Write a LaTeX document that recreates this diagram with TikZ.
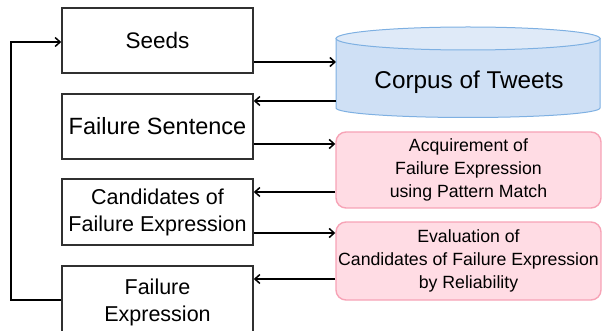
\documentclass[tikz,border=0pt]{standalone}
\usepackage{fontspec}
\setmainfont{Liberation Sans}
\usetikzlibrary{arrows.meta,calc}
\definecolor{boxline}{HTML}{303030}
\definecolor{cylbody}{HTML}{CFE0F5}
\definecolor{cyltop}{HTML}{DFEAF8}
\definecolor{cylline}{HTML}{7EB0E2}
\definecolor{pinkfill}{HTML}{FFDCE4}
\definecolor{pinkline}{HTML}{F7A3B6}
\tikzset{
  leftbox/.style={draw=boxline, line width=1.6pt, fill=white, minimum width=191pt, align=center, inner sep=0pt,
     font=\fontsize{21.5}{27}\selectfont},
  pinkbox/.style={draw=pinkline, fill=pinkfill, line width=1.4pt, rounded corners=10pt, minimum width=265pt,
     align=center, inner sep=0pt, font=\fontsize{17.7}{23}\selectfont},
  arr/.style={line width=1.7pt, -{Straight Barb[length=5pt,width=9pt,line width=1.5pt]}},
}
\begin{document}
\begin{tikzpicture}[x=1pt,y=-1pt]
\useasboundingbox (0,0) rectangle (602,331);
% cylinder
\path[fill=cylbody, draw=cylline, line width=1pt]
  (336,38.5) -- (336,108) arc[start angle=180, end angle=360, x radius=132pt, y radius=9.5pt] -- (600,38.5) -- cycle;
\draw[fill=cyltop, draw=cylline, line width=1pt] (468,38.5) ellipse [x radius=132pt, y radius=11.5pt];
\node[inner sep=0pt, font=\fontsize{24.3}{28}\selectfont] (corpus) at (469,82) {Corpus of Tweets};
\coordinate (cylW) at (336,82);

% left boxes
\node[leftbox, minimum height=65pt, font=\fontsize{22.5}{27}\selectfont] (seeds) at (157.5,40.5) {Seeds};
\node[leftbox, minimum height=65pt, font=\fontsize{23.5}{27}\selectfont] (fsent) at (157.5,126.5) {Failure Sentence};
\node[leftbox, minimum height=66pt] (cand) at (157.5,212) {Candidates of\\Failure Expression};
\node[leftbox, minimum height=72pt] (fexp) at (157.5,302) {Failure\\Expression};

% pink boxes
\node[pinkbox, minimum height=76pt] (acq) at (468.5,170) {Acquirement of\\Failure Expression\\using Pattern Match};
\node[pinkbox, minimum height=78pt] (eval) at (468.5,261) {Evaluation of\\Candidates of Failure Expression\\by Reliability};

% connectors
\draw[arr] ($(seeds.east)+(0,21.5)$) -- ($(cylW)+(0,-20)$);
\draw[arr] ($(cylW)+(0,19)$) -- ($(fsent.east)+(0,-25.5)$);
\draw[arr] ($(fsent.east)+(0,17.5)$) -- ($(acq.west)+(0,-26)$);
\draw[arr] ($(acq.west)+(0,22)$) -- ($(cand.east)+(0,-20)$);
\draw[arr] ($(cand.east)+(0,21)$) -- ($(eval.west)+(0,-28)$);
\draw[arr] ($(eval.west)+(0,18)$) -- ($(fexp.east)+(0,-23)$);
\coordinate (loopB) at (11,300);
\coordinate (loopT) at (11,42);
\draw[arr] ($(fexp.west)+(0,-2)$) -- (loopB) -- (loopT) -- ($(seeds.west)+(0,1.5)$);
\end{tikzpicture}
\end{document}
